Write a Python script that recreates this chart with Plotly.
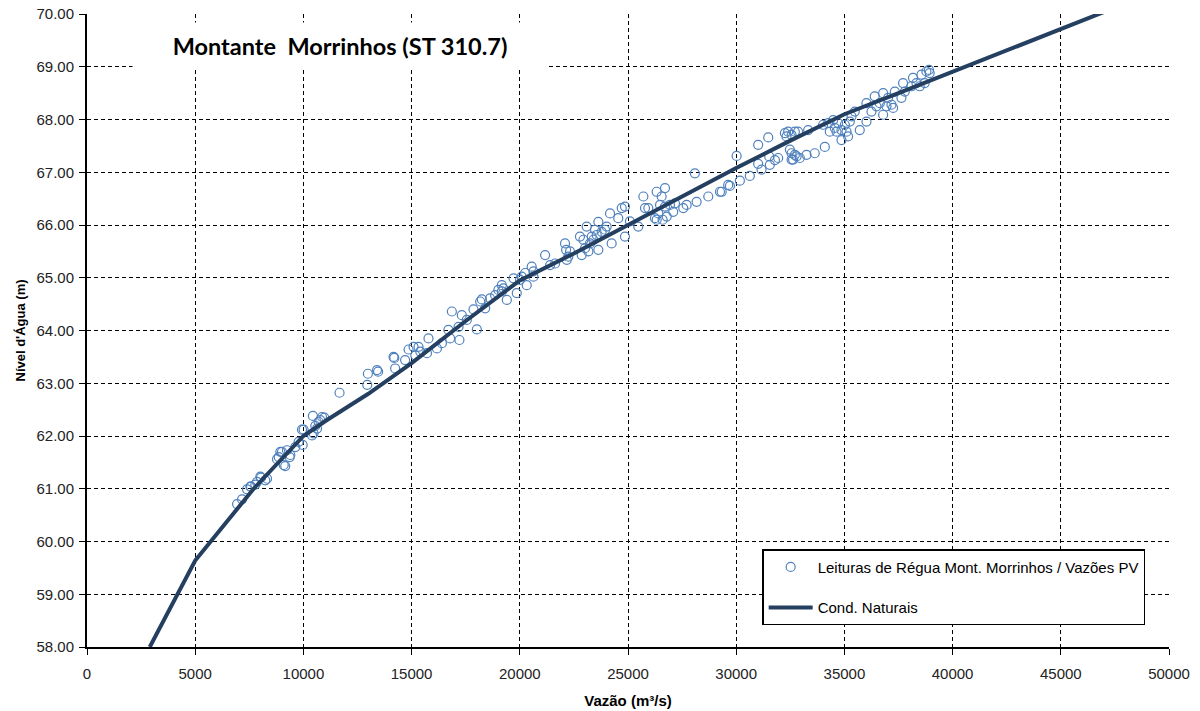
import plotly.graph_objects as go

# Rating curve (Cond. Naturais)
curve_q = [2900, 5000, 7700, 10000, 11000, 13000, 15000, 17500, 20000, 22500,
           25000, 27500, 30000, 32500, 35000, 37500, 40000, 42500, 45000, 47500]
curve_h = [58.00, 59.64, 61.00, 62.00, 62.28, 62.80, 63.38, 64.18, 64.95, 65.46,
           66.00, 66.55, 67.08, 67.60, 68.10, 68.50, 68.90, 69.30, 69.72, 70.12]

# Observed readings (Leituras de Régua)
obs_q = [6935, 7165, 7395, 7580, 7780, 8040, 8240, 8780, 8860, 9010, 9160, 9240,
         9365, 9625, 9780, 9965, 9935, 10440, 10400, 10550, 10700, 10860, 10965,
         11670, 10630, 9090, 8935, 9395, 10010, 10780, 10470, 7550, 8010, 7855, 8320,
         12950, 12980, 13450, 14200,
         13400, 14165, 14240, 14700, 14860, 15090, 15320, 15400, 15170, 15710, 15780,
         16170, 16400, 16780, 16700, 16860, 17210, 17320, 17170, 17550, 17860, 18015,
         18170, 18245, 18400, 18630, 18860, 19010, 19170, 19170, 19240, 19400, 19710,
         19860, 20010, 20090, 20245, 20320, 20550, 20630, 20630, 21170, 21400, 21630,
         22090, 22140, 22240,
         22170, 22320, 22780, 22860, 22940, 23090, 23015, 23170, 23245, 23325, 23400,
         23475, 23555, 23630, 23630, 23785, 23940, 24015, 24170, 24245, 24550, 24710,
         24860, 24860, 25090, 25475, 25710, 25785, 25940, 26245, 26325, 26400, 26480,
         26555, 26710, 26325, 26600, 26710, 26790, 26940, 27170, 27090, 27555, 27710,
         28170, 28710, 29250, 29630, 28090,
         29330, 29710, 30170, 30020, 30630, 31015, 31170, 31525, 31555, 31790, 31940,
         31480, 31015, 32250, 32325, 32400, 32560, 32710, 32860, 32480, 32560, 32630,
         32710, 32560, 32790, 32940, 33250, 33325, 33630, 34095, 34015, 34250, 34325,
         34480, 34555, 34635, 34710, 34865, 34865, 35020, 35100, 35250, 35330, 35480,
         35170, 35710, 36020, 36020, 36250, 36400, 36480, 36635, 36790, 36790, 36945,
         37020, 37175, 37250, 37330, 37635, 37710, 37790, 38100, 38170, 38330, 38480,
         38560, 38710, 38790, 38910, 38940]
obs_h = [60.71, 60.80, 60.99, 61.04, 61.08, 61.21, 61.16, 61.56, 61.60, 61.70, 61.43, 61.73,
         61.60, 61.79, 61.89, 61.83, 62.12, 62.38, 62.01, 62.19, 62.27, 62.36, 62.35,
         62.82, 62.14, 61.45, 61.70, 61.64, 62.12, 62.30, 62.05, 61.04, 61.23, 61.13, 61.19,
         62.97, 63.18, 63.22, 63.48,
         63.25, 63.50, 63.28, 63.44, 63.64, 63.69, 63.69, 63.60, 63.53, 63.57, 63.85,
         63.66, 63.76, 63.85, 64.01, 64.36, 63.82, 64.29, 64.07, 64.20, 64.40, 64.02,
         64.55, 64.59, 64.42, 64.61, 64.67, 64.77, 64.86, 64.74, 64.80, 64.58, 64.99,
         64.71, 64.96, 65.02, 65.09, 64.86, 65.21, 65.02, 65.12, 65.43, 65.24, 65.27,
         65.65, 65.53, 65.40,
         65.34, 65.50, 65.78, 65.43, 65.72, 65.97, 65.56, 65.50, 65.65, 65.78, 65.72,
         65.91, 65.81, 66.06, 65.53, 65.87, 65.91, 65.97, 66.22, 65.65, 66.13, 66.32,
         66.35, 65.78, 66.07, 65.97, 66.54, 66.32, 66.32, 66.13, 66.63, 66.22, 66.38,
         66.54, 66.70, 66.10, 66.10, 66.35, 66.16, 66.38, 66.41, 66.25, 66.32, 66.38,
         66.44, 66.54, 66.63, 66.76, 66.98,
         66.63, 66.74, 66.84, 67.31, 66.93, 67.16, 67.05, 67.30, 67.14, 67.23, 67.27,
         67.66, 67.52, 67.74, 67.68, 67.77, 67.71, 67.77, 67.77, 67.43, 67.36, 67.24,
         67.33, 67.24, 67.30, 67.27, 67.33, 67.80, 67.36, 67.48, 67.90, 67.93, 67.77,
         67.99, 67.84, 67.77, 67.93, 67.61, 67.80, 67.90, 67.77, 67.96, 68.06, 68.15,
         67.68, 67.80, 67.96, 68.31, 68.15, 68.44, 68.25, 68.31, 68.09, 68.50, 68.25,
         68.41, 68.28, 68.22, 68.53, 68.41, 68.69, 68.53, 68.63, 68.79, 68.69, 68.63,
         68.85, 68.69, 68.91, 68.94, 68.88]

x_ticks = [0, 5000, 10000, 15000, 20000, 25000, 30000, 35000, 40000, 45000, 50000]
y_ticks = [58, 59, 60, 61, 62, 63, 64, 65, 66, 67, 68, 69, 70]

fig = go.Figure()
fig.add_trace(go.Scatter(
    x=obs_q, y=obs_h, mode="markers",
    name="Leituras de Régua Mont. Morrinhos / Vazões PV",
    marker=dict(symbol="circle-open", size=9, color="#4F81BD", line=dict(width=1.2)),
    legendgroup="a",
))
fig.add_trace(go.Scatter(
    x=curve_q, y=curve_h, mode="lines", name="Cond. Naturais",
    line=dict(color="#243F60", width=4),
    legendgroup="b",
))

FONT = "Arial, Liberation Sans"
axis_font = dict(family=FONT, size=15, color="#222")
fig.update_layout(
    width=1200, height=711,
    margin=dict(l=87, r=31, t=14, b=64),
    paper_bgcolor="white", plot_bgcolor="white",
    font=dict(family=FONT, size=15, color="#000"),
    showlegend=True,
    legend=dict(
        x=0.624, y=0.1545, xanchor="left", yanchor="top",
        bgcolor="white", bordercolor="#000", borderwidth=1.5,
        font=dict(family=FONT, size=15, color="#000"),
        tracegroupgap=18, itemwidth=44,
    ),
    xaxis=dict(
        range=[0, 50000], tickvals=x_ticks, tickformat="d", automargin=False,
        showgrid=True, gridcolor="#000", griddash="4px,3px", gridwidth=1,
        showline=True, linecolor="#000", linewidth=2,
        ticks="outside", ticklen=6, tickcolor="#000", ticklabelstandoff=6,
        tickfont=axis_font, zeroline=False,
        title=dict(text="<b>Vazão (m³/s)</b>", font=dict(family=FONT, size=15, color="#000"), standoff=14),
    ),
    yaxis=dict(
        range=[58, 70], tickvals=y_ticks, tickformat=".2f", automargin=False,
        showgrid=True, gridcolor="#000", griddash="4px,3px", gridwidth=1,
        showline=True, linecolor="#000", linewidth=2,
        ticks="outside", ticklen=6, tickcolor="#000", ticklabelstandoff=2,
        tickfont=axis_font, zeroline=False,
        title=dict(text="<b>Nível d'Água (m)</b>", font=dict(family=FONT, size=13, color="#000"), standoff=8),
    ),
    annotations=[dict(
        text="<b>Montante  Morrinhos (ST 310.7)</b>",
        xref="paper", yref="paper", x=0.2335, y=0.95,
        xanchor="center", yanchor="middle", showarrow=False,
        font=dict(family="Lato, Open Sans", size=23.5, color="#000"),
        bgcolor="white", width=412, height=44,
    )],
)

fig.write_html("out.html")
